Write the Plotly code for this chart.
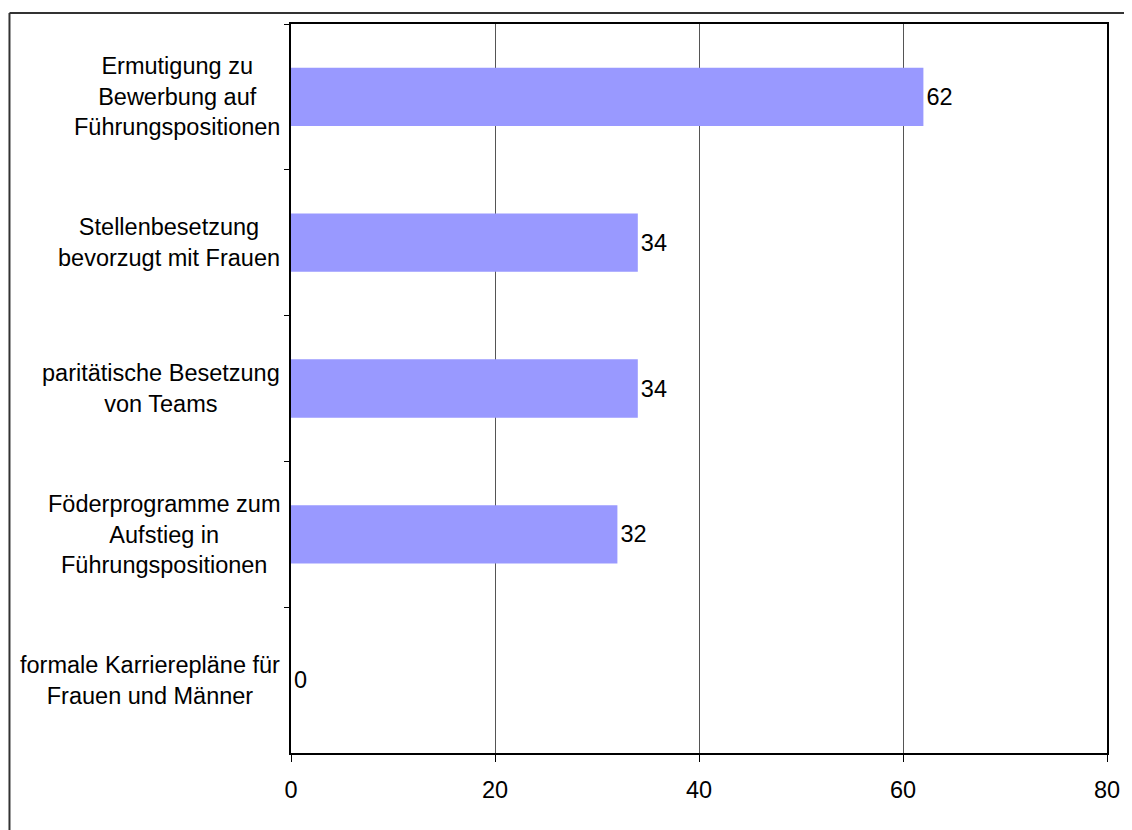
import plotly.graph_objects as go

categories = [
    "Ermutigung zu<br>Bewerbung auf<br>Führungspositionen",
    "Stellenbesetzung<br>bevorzugt mit Frauen",
    "paritätische Besetzung<br>von Teams",
    "Föderprogramme zum<br>Aufstieg in<br>Führungspositionen",
    "formale Karrierepläne für<br>Frauen und Männer",
]
values = [62, 34, 34, 32, 0]
x_ticks = [0, 20, 40, 60, 80]

FONT = dict(family="Liberation Sans, Arial, sans-serif", size=23.5, color="black")

fig = go.Figure()
fig.add_bar(
    y=categories, x=values, orientation="h",
    marker=dict(color="#9999FF", line=dict(width=0)),
    width=0.4,
    text=[str(v) for v in values], textposition="outside",
    textfont=FONT, cliponaxis=False,
)

# centred multi-line category labels, right edge next to the axis
for c in categories:
    fig.add_annotation(x=0, xref="paper", y=c, yref="y", text=c,
                       xanchor="right", align="center", xshift=-9,
                       showarrow=False, font=FONT)

# outer frame of the chart: only left and top edges are visible
frame = dict(color="#333333", width=2)
fig.add_shape(type="line", xref="paper", yref="paper",
              x0=-0.345, x1=-0.345, y0=-0.14, y1=1.0151, line=frame)
fig.add_shape(type="line", xref="paper", yref="paper",
              x0=-0.345, x1=1.2, y0=1.0151, y1=1.0151, line=frame)

# page body has an 8px margin, so the figure is 8px smaller than the window
fig.update_layout(
    width=1124, height=822,
    margin=dict(l=283, r=22, t=16, b=77),
    plot_bgcolor="white", paper_bgcolor="white",
    font=FONT, showlegend=False,
    xaxis=dict(range=[0, 80], tickvals=x_ticks, showgrid=True,
               gridcolor="#555555", gridwidth=1, zeroline=False,
               showline=True, linecolor="black", linewidth=1.5, mirror=True,
               ticks="outside", ticklen=7, tickcolor="black",
               ticklabelstandoff=8),
    yaxis=dict(autorange="reversed", showticklabels=False,
               showline=True, linecolor="black", linewidth=1.5, mirror=True,
               ticks="outside", ticklen=5, tickcolor="black",
               tickson="boundaries", showgrid=False),
)
fig.write_html("out.html")
